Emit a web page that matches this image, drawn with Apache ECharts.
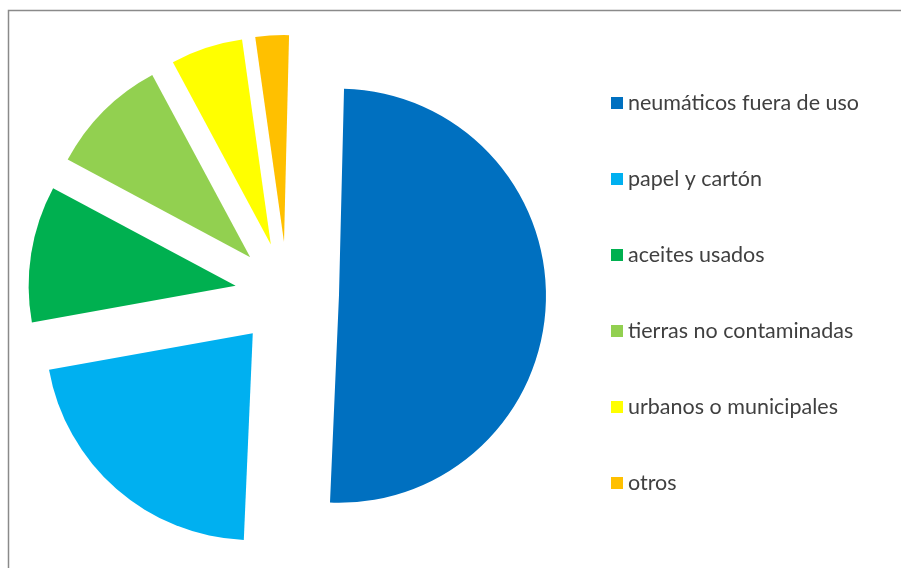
<!DOCTYPE html>
<html>
<head>
<meta charset="utf-8">
<script src="https://cdn.jsdelivr.net/npm/echarts@6/dist/echarts.min.js"></script>
<style>
  html, body { margin: 0; padding: 0; background: #fff; }
  #chart { width: 901px; height: 568px; }
</style>
</head>
<body>
<div id="chart"></div>
<script>
// categorias del grafico
var categories = ['neumáticos fuera de uso', 'papel y cartón', 'aceites usados',
  'tierras no contaminadas', 'urbanos o municipales', 'otros'];
// porcentaje de cada categoria
var values = [50.1, 21.4, 10.6, 9.3, 5.6, 2.6];

var palette = ['#0070C0', '#00B0F0', '#00B050', '#92D050', '#FFFF00', '#FFC000'];

var myChart = echarts.init(document.getElementById('chart'));

var pieData = categories.map(function (name, i) {
  return { name: name, value: values[i], selected: true };
});

var option = {
  animation: false,
  color: palette,
  // marco del grafico
  graphic: [{
    type: 'rect',
    shape: { x: 8.5, y: 10.5, width: 920, height: 600 },
    style: { fill: 'none', stroke: '#8a8a8a', lineWidth: 1.5 },
    silent: true
  }],
  legend: {
    orient: 'vertical',
    left: 606,
    top: 86,
    icon: 'rect',
    itemWidth: 12,
    itemHeight: 12,
    itemGap: 52,
    selectedMode: false,
    textStyle: {
      color: '#404040',
      fontSize: 21.5,
      lineHeight: 24,
      fontFamily: 'Lato'
    },
    data: categories
  },
  series: [{
    name: 'residuos',
    type: 'pie',
    center: [287, 294],
    radius: [0, 207],
    startAngle: 88.6,
    clockwise: true,
    selectedMode: 'multiple',
    selectedOffset: 52,
    avoidLabelOverlap: false,
    label: { show: false },
    labelLine: { show: false },
    itemStyle: { borderWidth: 0 },
    select: { itemStyle: { borderWidth: 0 } },
    emphasis: { disabled: true },
    data: pieData
  }]
};

myChart.setOption(option);
</script>
</body>
</html>
